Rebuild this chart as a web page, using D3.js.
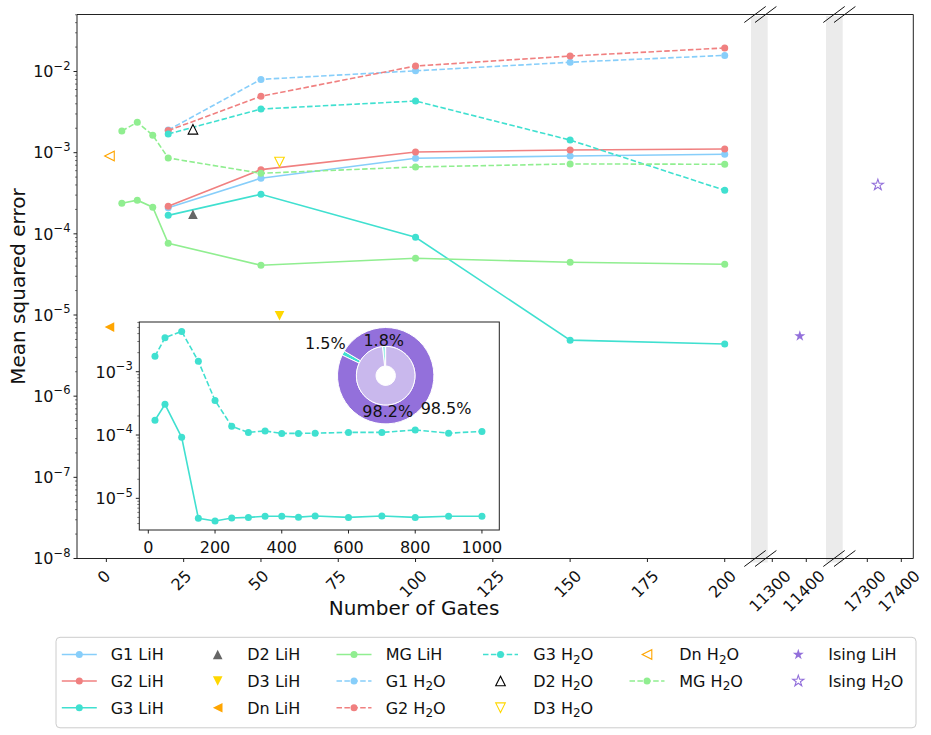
<!doctype html>
<html lang="en">
<head>
<meta charset="utf-8">
<script src="https://cdn.jsdelivr.net/npm/d3@7/dist/d3.min.js"></script>
<style>
    body { margin: 0; background: #fff; }
    svg { font-family: "DejaVu Sans", sans-serif; }
</style>
</head>
<body>
<svg id="chart" width="931" height="735"></svg>
<script>
    // gate counts (x values)
    var gatesG = [20, 50, 100, 150, 200];
    var gatesMG = [5, 10, 15, 20, 50, 100, 150, 200];
    // mean squared error, LiH
    var g1LiH = [2.10e-4, 4.84e-4, 8.53e-4, 9.10e-4, 9.55e-4];
    var g2LiH = [2.19e-4, 6.18e-4, 1.02e-3, 1.08e-3, 1.11e-3];
    var g3LiH = [1.69e-4, 3.07e-4, 9.08e-5, 4.9e-6, 4.4e-6];
    var mgLiH = [2.38e-4, 2.60e-4, 2.13e-4, 7.66e-5, 4.1e-5, 5.0e-5, 4.47e-5, 4.22e-5];
    // mean squared error, H2O
    var g1H2O = [1.90e-3, 8.0e-3, 1.02e-2, 1.30e-2, 1.58e-2];
    var g2H2O = [1.87e-3, 4.96e-3, 1.17e-2, 1.55e-2, 1.95e-2];
    var g3H2O = [1.70e-3, 3.45e-3, 4.33e-3, 1.43e-3, 3.44e-4];
    var mgH2O = [1.85e-3, 2.37e-3, 1.64e-3, 8.6e-4, 5.57e-4, 6.67e-4, 7.26e-4, 7.2e-4];
    // single-point circuits D2, D3, Dn
    var dGates = [28, 56, 1];
    var dLiH = [1.74e-4, 9.8e-6, 7.1e-6];
    var dH2O = [1.94e-3, 7.67e-4, 9.1e-4];
    // Ising circuits (on the broken part of the axis)
    var isingGates = [11381, 17331];
    var isingMSE = [5.5e-6, 4.0e-4];

    // inset: G3 over a longer range of gates
    var insetGates = [20, 50, 100, 150, 200, 250, 300, 350, 400, 450, 500, 600, 700, 800, 900, 1000];
    var insetLiH = [1.71e-4, 3.05e-4, 9.2e-5, 4.83e-6, 4.39e-6, 4.89e-6, 5.0e-6, 5.2e-6, 5.2e-6, 5.05e-6, 5.25e-6, 5.0e-6, 5.25e-6, 5.0e-6, 5.2e-6, 5.2e-6];
    var insetH2O = [1.75e-3, 3.44e-3, 4.33e-3, 1.46e-3, 3.52e-4, 1.37e-4, 1.10e-4, 1.16e-4, 1.06e-4, 1.06e-4, 1.07e-4, 1.10e-4, 1.10e-4, 1.20e-4, 1.07e-4, 1.14e-4];
    // donut (percent)
    var outerPct = [1.5, 98.5];
    var innerPct = [1.8, 98.2];

    // ticks
    var xTicksA = [0, 25, 50, 75, 100, 125, 150, 175, 200];
    var xTicksB = [11300, 11400];
    var xTicksC = [17300, 17400];
    var yTickExp = [-8, -7, -6, -5, -4, -3, -2];
    var inXTicks = [0, 200, 400, 600, 800, 1000];
    var inYTickExp = [-5, -4, -3];

    // domains of the broken x axis
    var domA = [-9.5, 208.5], domB = [11286.5, 11458], domC = [17227.6, 17435.3];

    // layout
    var plotTop = 14.5, plotBottom = 558.5, plotLeft = 77, plotRight = 913.3;
    var svg = d3.select("#chart");

    var xA = d3.scaleLinear().domain(domA).range([plotLeft, 751]);
    var xB = d3.scaleLinear().domain(domB).range([767.7, 826]);
    var xC = d3.scaleLinear().domain(domC).range([842.7, plotRight]);
    var y = d3.scaleLog().domain([1e-8, 0.0504]).range([plotBottom, plotTop]);

    var blue = "#87CEFA", red = "#F08080", cyan = "#40E0D0", green = "#90EE90",
        grey = "#666666", gold = "#FFD700", orange = "#FFA500", purple = "#9370DB";
    var dash = "5.5,2.4";

    function marker(g, type, color, filled) {
        var p;
        var h = 4.8;
        if (type === "circle") {
            return g.append("circle").attr("r", 3.5).attr("fill", color);
        }
        if (type === "up") p = "M0," + (-h) + "L" + (-h) + "," + h + "L" + h + "," + h + "Z";
        if (type === "down") p = "M0," + h + "L" + (-h) + "," + (-h) + "L" + h + "," + (-h) + "Z";
        if (type === "left") p = "M" + (-h) + ",0L" + h + "," + (-h) + "L" + h + "," + h + "Z";
        if (type === "star") p = d3.symbol(d3.symbolStar, 38)();
        return g.append("path").attr("d", p)
            .attr("fill", filled ? color : "white")
            .attr("stroke", color)
            .attr("stroke-width", filled ? 0 : 1.1)
            .attr("stroke-linejoin", "miter");
    }

    // grey bands at the axis breaks
    [[751, 767.7], [826, 842.7]].forEach(function(b) {
        svg.append("rect").attr("x", b[0]).attr("y", plotTop + 1.5)
            .attr("width", b[1] - b[0]).attr("height", 562.5 - plotTop - 1.5)
            .attr("fill", "#ebebeb");
    });

    // series table
    var lineSeries = [
        {name: "G1", mol: "LiH", xs: gatesG, ys: g1LiH, color: blue, dashed: false},
        {name: "G2", mol: "LiH", xs: gatesG, ys: g2LiH, color: red, dashed: false},
        {name: "G3", mol: "LiH", xs: gatesG, ys: g3LiH, color: cyan, dashed: false},
        {name: "MG", mol: "LiH", xs: gatesMG, ys: mgLiH, color: green, dashed: false},
        {name: "G1", mol: "H2O", xs: gatesG, ys: g1H2O, color: blue, dashed: true},
        {name: "G2", mol: "H2O", xs: gatesG, ys: g2H2O, color: red, dashed: true},
        {name: "G3", mol: "H2O", xs: gatesG, ys: g3H2O, color: cyan, dashed: true},
        {name: "MG", mol: "H2O", xs: gatesMG, ys: mgH2O, color: green, dashed: true}
    ];
    var dTypes = ["up", "down", "left"];
    var dLiHColors = [grey, gold, orange];
    var dH2OColors = ["black", gold, orange];

    var plot = svg.append("g");
    var line = d3.line();
    lineSeries.forEach(function(s) {
        var pts = s.xs.map(function(x, i) { return [xA(x), y(s.ys[i])]; });
        plot.append("path").attr("d", line(pts)).attr("fill", "none")
            .attr("stroke", s.color).attr("stroke-width", 1.6)
            .attr("stroke-dasharray", s.dashed ? dash : null);
        pts.forEach(function(p) {
            marker(plot, "circle", s.color, true).attr("cx", p[0]).attr("cy", p[1]);
        });
    });
    dGates.forEach(function(x, i) {
        marker(plot, dTypes[i], dLiHColors[i], true)
            .attr("transform", "translate(" + xA(x) + "," + y(dLiH[i]) + ")");
        marker(plot, dTypes[i], dH2OColors[i], false)
            .attr("transform", "translate(" + xA(x) + "," + y(dH2O[i]) + ")");
    });
    marker(plot, "star", purple, true)
        .attr("transform", "translate(" + xB(isingGates[0]) + "," + y(isingMSE[0]) + ")");
    marker(plot, "star", purple, false)
        .attr("transform", "translate(" + xC(isingGates[1]) + "," + y(isingMSE[1]) + ")");

    // spines
    var ax = svg.append("g").attr("stroke", "#222").attr("stroke-width", 1).attr("fill", "none");
    ax.append("line").attr("x1", plotLeft).attr("x2", plotRight).attr("y1", plotTop).attr("y2", plotTop);
    ax.append("line").attr("x1", plotLeft).attr("x2", plotRight).attr("y1", plotBottom).attr("y2", plotBottom);
    ax.append("line").attr("x1", plotLeft).attr("x2", plotLeft).attr("y1", plotTop).attr("y2", plotBottom);
    ax.append("line").attr("x1", plotRight).attr("x2", plotRight).attr("y1", plotTop).attr("y2", plotBottom);

    // break marks
    [755, 765.7, 834, 844.7].forEach(function(cx) {
        [plotTop, plotBottom].forEach(function(cy) {
            ax.append("line").attr("x1", cx - 10.7).attr("y1", cy + 8)
                .attr("x2", cx + 10.7).attr("y2", cy - 8).attr("stroke", "#111");
        });
    });

    function rotLabel(g, x, yTop, txt) {
        var t = g.append("text").attr("font-size", 16).attr("text-anchor", "middle")
            .attr("dominant-baseline", "central").attr("fill", "#111").text(txt);
        var w = t.node().getComputedTextLength();
        var cy = yTop + (w + 16) / (2 * Math.SQRT2);
        t.attr("transform", "translate(" + (x - 2.3) + "," + cy + ") rotate(-45)");
    }

    // x ticks
    var xt = svg.append("g");
    [[xA, xTicksA], [xB, xTicksB], [xC, xTicksC]].forEach(function(pair) {
        pair[1].forEach(function(v) {
            var px = pair[0](v);
            xt.append("line").attr("x1", px).attr("x2", px).attr("y1", plotBottom).attr("y2", plotBottom + 3.5)
                .attr("stroke", "#222");
            rotLabel(xt, px, plotBottom + 9, String(v));
        });
    });

    function powLabel(g, x, yc, exp, anchor) {
        var t = g.append("text").attr("x", x).attr("y", yc + 5.8)
            .attr("font-size", 16).attr("text-anchor", anchor).attr("fill", "#111");
        t.append("tspan").text("10");
        t.append("tspan").attr("font-size", 11.5).attr("dy", -7.5).text("\u2212" + Math.abs(exp));
        return t;
    }

    // y ticks (log, with minor ticks)
    var yt = svg.append("g");
    yTickExp.forEach(function(e) {
        var py = y(Math.pow(10, e));
        yt.append("line").attr("x1", plotLeft - 3.5).attr("x2", plotLeft).attr("y1", py).attr("y2", py).attr("stroke", "#222");
        powLabel(yt, plotLeft - 6.5, py, e, "end");
        for (var k = 2; k <= 9; k++) {
            var v = k * Math.pow(10, e);
            if (v > y.domain()[1]) continue;
            var pm = y(v);
            yt.append("line").attr("x1", plotLeft - 2).attr("x2", plotLeft).attr("y1", pm).attr("y2", pm)
                .attr("stroke", "#222").attr("stroke-width", 0.6);
        }
    });

    // axis labels
    svg.append("text").attr("x", (plotLeft + 751) / 2).attr("y", 615).attr("text-anchor", "middle")
        .attr("font-size", 20).attr("fill", "#111").text("Number of Gates");
    svg.append("text").attr("transform", "translate(25,286.5) rotate(-90)").attr("text-anchor", "middle")
        .attr("font-size", 20).attr("fill", "#111").text("Mean squared error");

    // ---- inset ----
    var inL = 139.3, inR = 499.3, inT = 322, inB = 530;
    var ix = d3.scaleLinear().domain([-27, 1052]).range([inL, inR]);
    var iy = d3.scaleLog().domain([Math.pow(10, -5.5), Math.pow(10, -2.215)]).range([inB, inT]);
    var inset = svg.append("g");
    inset.append("rect").attr("x", inL).attr("y", inT).attr("width", inR - inL).attr("height", inB - inT)
        .attr("fill", "white").attr("stroke", "#222").attr("stroke-width", 1);
    [[insetLiH, false], [insetH2O, true]].forEach(function(pair) {
        var pts = insetGates.map(function(g, i) { return [ix(g), iy(pair[0][i])]; });
        inset.append("path").attr("d", line(pts)).attr("fill", "none").attr("stroke", cyan)
            .attr("stroke-width", 1.6).attr("stroke-dasharray", pair[1] ? dash : null);
        pts.forEach(function(p) {
            marker(inset, "circle", cyan, true).attr("cx", p[0]).attr("cy", p[1]);
        });
    });
    inXTicks.forEach(function(v) {
        var px = ix(v);
        inset.append("line").attr("x1", px).attr("x2", px).attr("y1", inB).attr("y2", inB + 3.5).attr("stroke", "#222");
        inset.append("text").attr("x", px).attr("y", inB + 22.5).attr("text-anchor", "middle")
            .attr("font-size", 16).attr("fill", "#111").text(v);
    });
    [-6, -5, -4, -3].forEach(function(e) {
        if (inYTickExp.indexOf(e) >= 0) {
            var py = iy(Math.pow(10, e));
            inset.append("line").attr("x1", inL - 3.5).attr("x2", inL).attr("y1", py).attr("y2", py).attr("stroke", "#222");
            powLabel(inset, inL - 6.5, py, e, "end");
        }
        for (var k = 2; k <= 9; k++) {
            var v = k * Math.pow(10, e);
            if (v < iy.domain()[0] || v > iy.domain()[1]) continue;
            var pm = iy(v);
            inset.append("line").attr("x1", inL - 2).attr("x2", inL).attr("y1", pm).attr("y2", pm)
                .attr("stroke", "#222").attr("stroke-width", 0.6);
        }
    });

    // donut
    var pc = [385.7, 375.7];
    var pieG = inset.append("g").attr("transform", "translate(" + pc[0] + "," + pc[1] + ")");
    function ring(vals, startDeg, r0, r1, colors, labelR) {
        // matplotlib style: counter-clockwise from startDeg (0 = east)
        var total = d3.sum(vals), a = startDeg;
        vals.forEach(function(v, i) {
            var span = v / total * 360;
            var a0 = (90 - (a + span)) * Math.PI / 180, a1 = (90 - a) * Math.PI / 180;
            pieG.append("path")
                .attr("d", d3.arc().innerRadius(r0).outerRadius(r1).startAngle(a0).endAngle(a1)())
                .attr("fill", colors[i]).attr("stroke", "white").attr("stroke-width", 1);
            var mid = (a + span / 2) * Math.PI / 180;
            pieG.append("text").attr("x", labelR * Math.cos(mid)).attr("y", -labelR * Math.sin(mid) + 5.8)
                .attr("text-anchor", "middle").attr("font-size", 16).attr("fill", "#111")
                .text(v.toFixed(1) + "%");
            a += span;
        });
    }
    ring(outerPct, 149.3, 29.3, 48.2, [cyan, purple], 68.4);
    ring(innerPct, 90, 9.7, 29.3, ["#a0efe7", "#c9b8ed"], 35.2);

    // ---- legend ----
    var lg = svg.append("g");
    lg.append("rect").attr("x", 56).attr("y", 637.3).attr("width", 860).attr("height", 90.5)
        .attr("rx", 4).attr("fill", "white").attr("stroke", "#cccccc").attr("stroke-width", 1);
    var legendItems = [
        {label: "G1", mol: "LiH", kind: "line", color: blue, dashed: false},
        {label: "G2", mol: "LiH", kind: "line", color: red, dashed: false},
        {label: "G3", mol: "LiH", kind: "line", color: cyan, dashed: false},
        {label: "D2", mol: "LiH", kind: "up", color: grey, filled: true},
        {label: "D3", mol: "LiH", kind: "down", color: gold, filled: true},
        {label: "Dn", mol: "LiH", kind: "left", color: orange, filled: true},
        {label: "MG", mol: "LiH", kind: "line", color: green, dashed: false},
        {label: "G1", mol: "H2O", kind: "line", color: blue, dashed: true},
        {label: "G2", mol: "H2O", kind: "line", color: red, dashed: true},
        {label: "G3", mol: "H2O", kind: "line", color: cyan, dashed: true},
        {label: "D2", mol: "H2O", kind: "up", color: "black", filled: false},
        {label: "D3", mol: "H2O", kind: "down", color: gold, filled: false},
        {label: "Dn", mol: "H2O", kind: "left", color: orange, filled: false},
        {label: "MG", mol: "H2O", kind: "line", color: green, dashed: true},
        {label: "Ising", mol: "LiH", kind: "star", color: purple, filled: true},
        {label: "Ising", mol: "H2O", kind: "star", color: purple, filled: false}
    ];
    var colHandle = [79.3, 217.7, 354, 500.5, 647, 798.3];
    var colText = [110.7, 247.3, 385.7, 533.3, 679.3, 828.3];
    var colStart = [0, 3, 6, 9, 12, 14, 16];
    var rowY = [654.5, 681, 707.7];
    legendItems.forEach(function(it, i) {
        var c = 0;
        while (i >= colStart[c + 1]) c++;
        var r = i - colStart[c];
        var hx = colHandle[c], ry = rowY[r];
        if (it.kind === "line") {
            lg.append("line").attr("x1", hx - 17.5).attr("x2", hx + 17.5).attr("y1", ry).attr("y2", ry)
                .attr("stroke", it.color).attr("stroke-width", 1.6)
                .attr("stroke-dasharray", it.dashed ? dash : null);
            marker(lg, "circle", it.color, true).attr("cx", hx).attr("cy", ry);
        } else {
            marker(lg, it.kind, it.color, it.filled).attr("transform", "translate(" + hx + "," + ry + ")");
        }
        var t = lg.append("text").attr("x", colText[c]).attr("y", ry + 5.8)
            .attr("font-size", 16).attr("fill", "#111");
        if (it.mol === "H2O") {
            t.append("tspan").text(it.label + " H");
            t.append("tspan").attr("font-size", 12).attr("dy", 3.5).text("2");
            t.append("tspan").attr("dy", -3.5).text("O");
        } else {
            t.text(it.label + " " + it.mol);
        }
    });
</script>
</body>
</html>
